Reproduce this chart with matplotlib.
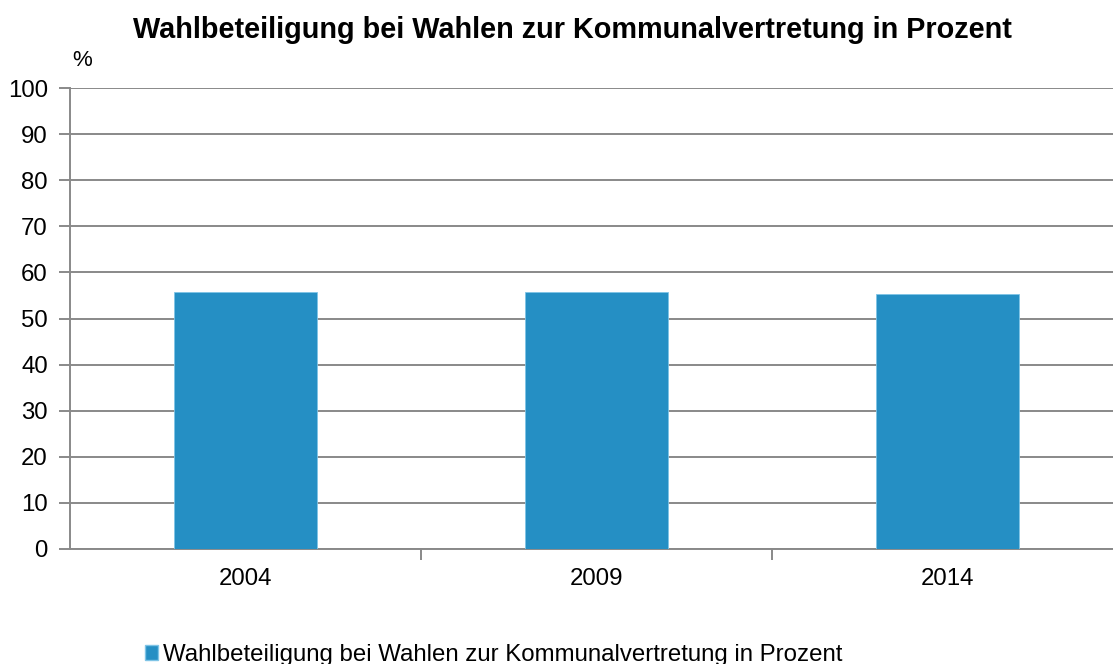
import matplotlib
matplotlib.use("Agg")
import matplotlib.pyplot as plt
from matplotlib.patches import Patch

years = ["2004", "2009", "2014"]
turnout = [55.7, 55.8, 55.3]
series_name = "Wahlbeteiligung bei Wahlen zur Kommunalvertretung in Prozent"
title = "Wahlbeteiligung bei Wahlen zur Kommunalvertretung in Prozent"
yticks = [0, 10, 20, 30, 40, 50, 60, 70, 80, 90, 100]

plt.rcParams['font.family'] = ['Liberation Sans', 'DejaVu Sans']

W, H = 1113, 664
fig = plt.figure(figsize=(W / 100, H / 100), dpi=100)
left, right, top, bottom = 70, 1113, 88.3, 548.7
ax = fig.add_axes([left / W, (H - bottom) / H, (right - left) / W, (bottom - top) / H])

color = "#258FC4"
grid = "#898989"
x = range(len(years))
ax.bar(x, turnout, width=0.405, color=color, edgecolor="#7FC4E6", linewidth=0.6, zorder=3)

ax.set_ylim(0, 100)
ax.set_xlim(-0.5, 2.5 - (1123 - 1113) / 351)
ax.set_yticks(yticks)
ax.set_yticklabels([str(v) for v in yticks], fontsize=17.3)
ax.yaxis.grid(True, color=grid, linewidth=1.4, zorder=0)
ax.set_axisbelow(True)

ax.set_xticks([0.5, 1.5])
ax.set_xticklabels([])
ax.set_xticks(list(x), minor=True)
ax.set_xticklabels(years, minor=True, fontsize=17.3)
ax.tick_params(axis='x', which='minor', length=0, pad=14)
ax.tick_params(axis='x', which='major', length=8, color=grid, width=1.4, direction='out')
ax.tick_params(axis='y', length=8, color=grid, width=1.4, pad=8)

for s in ['top', 'right']:
    ax.spines[s].set_visible(False)
for s in ['left', 'bottom']:
    ax.spines[s].set_color(grid)
    ax.spines[s].set_linewidth(1.4)

fig.text(572 / W, 1 - 30 / H, title, ha='center', va='center', fontsize=20.8, fontweight='bold')
fig.text(82 / W, 1 - 60 / H, "%", ha='center', va='center', fontsize=16)

fig.legend(handles=[Patch(facecolor=color, edgecolor="#7FC4E6", label=series_name)],
           loc='center left', bbox_to_anchor=(145 / W, 1 - 655 / H), frameon=False,
           fontsize=17.3, handlelength=0.55, handleheight=0.55, handletextpad=0.2, borderaxespad=0,
           borderpad=0)

fig.savefig("out.png", dpi=100)
